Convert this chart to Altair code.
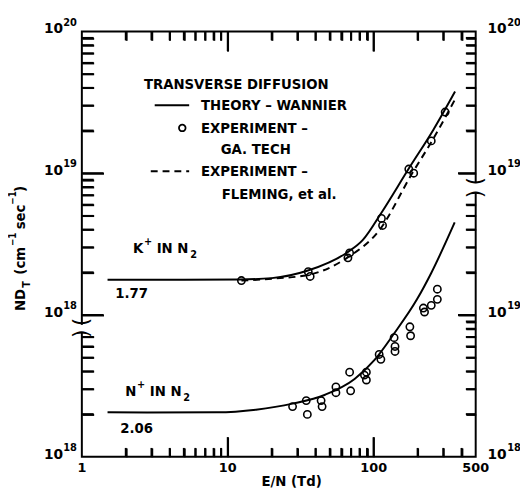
import altair as alt
import pandas as pd

# ---------------- data ----------------
# K+ in N2 (left-hand scale)
EN_K_THEORY = [1.5, 5, 12, 20, 35, 65, 84, 113, 174, 256, 361]
K_THEORY = [1.77e18, 1.77e18, 1.78e18, 1.82e18, 2.05e18, 2.74e18, 3.37e18,
            5.27e18, 1.08e19, 2.02e19, 3.77e19]
EN_K_FLEMING = [12.4, 21.3, 36.7, 65.6, 109, 182, 256, 361]
K_FLEMING = [1.75e18, 1.81e18, 1.93e18, 2.53e18, 3.95e18, 9.84e18, 1.75e19, 3.32e19]
EN_K_EXP = [12.4, 35.6, 36.7, 68.4, 66.6, 113, 115, 174, 188, 248, 309]
K_EXP = [1.75e18, 2.02e18, 1.87e18, 2.74e18, 2.53e18, 4.8e18, 4.28e18,
         1.07e19, 1.0e19, 1.69e19, 2.7e19]

# N+ in N2 (right-hand scale, drawn one decade lower)
EN_N_THEORY = [1.5, 2.8, 8.4, 15.6, 27.8, 46.5, 74, 101, 138, 198, 248, 359]
N_THEORY = [2.06e18, 2.05e18, 2.06e18, 2.15e18, 2.37e18, 2.74e18, 3.54e18,
            4.8e18, 7.4e18, 1.29e19, 1.98e19, 4.5e19]
EN_N_EXP = [27.8, 34.5, 35.1, 43.6, 44.3, 55.1, 55.1, 68.4, 69.5, 86.4, 89.1, 89.1,
            109, 112, 138, 140, 140, 177, 179, 219, 223, 248, 273, 273]
N_EXP = [2.26e18, 2.49e18, 1.99e18, 2.49e18, 2.26e18, 3.11e18, 2.83e18, 3.95e18,
         2.92e18, 3.77e18, 3.95e18, 3.48e18, 5.27e18, 4.87e18, 6.92e18, 6.0e18,
         5.53e18, 8.26e18, 7.14e18, 1.12e19, 1.05e19, 1.17e19, 1.29e19, 1.52e19]
N_SHIFT = 10.0

# axis ticks and labels
X_MAJOR = [10, 100]
X_MINOR = [2, 3, 4, 5, 6, 7, 8, 9, 20, 30, 40, 50, 60, 70, 80, 90, 200, 300, 400]
X_LABEL_VALUES = [1, 10, 100, 500]
X_LABELS = ["1", "10", "100", "500"]

Y_MAJOR = [1e18, 1e19]
Y_MINOR_LEFT = [2e17, 3e17, 4e17, 5e17, 6e17, 7e17,
                2e18, 3e18, 4e18, 5e18, 6e18, 7e18, 8e18, 9e18,
                2e19, 3e19, 4e19, 5e19, 6e19, 7e19, 8e19, 9e19]
Y_MINOR_RIGHT = [2e17, 3e17, 4e17, 5e17, 6e17, 7e17, 8e17, 9e17,
                 2e18, 3e18, 4e18, 5e18, 6e18,
                 2e19, 3e19, 4e19, 5e19, 6e19, 7e19, 8e19, 9e19]
Y_LABEL_VALUES = [1e17, 1e18, 1e19, 1e20]
Y_EXP_LEFT = ["18", "18", "19", "20"]
Y_EXP_RIGHT = ["18", "19", "19", "20"]

# ---------------- styling ----------------
W, H = 400, 432
XDOM = [1, 500]
YDOM = [1e17, 1e20]
NARROW = "Liberation Sans Narrow, DejaVu Sans Condensed, sans-serif"
WIDE = "DejaVu Sans, Liberation Sans, sans-serif"
TW = 2  # tick stroke width

xs = alt.Scale(type="log", domain=XDOM, nice=False)
ys = alt.Scale(type="log", domain=YDOM, nice=False)


def tick_axis(values, orient, offset, size):
    # an axis turned to face inwards: only its ticks are drawn, inside the frame
    return alt.Axis(values=values, orient=orient, offset=offset, domain=False, labels=False,
                    grid=False, title=None, tickColor="black", tickWidth=TW, tickSize=size,
                    tickOpacity=1, tickCount=40)


def X(f, axis=None):
    return alt.X(f, type="quantitative", scale=xs, axis=axis)


def Y(f, axis=None):
    return alt.Y(f, type="quantitative", scale=ys, axis=axis)


def frame(en, val, series, shift=1.0):
    return pd.DataFrame({"en": en, "val": val,
                         "plot": [v / shift for v in val], "series": series})


theory = pd.concat([frame(EN_K_THEORY, K_THEORY, "K"),
                    frame(EN_N_THEORY, N_THEORY, "N", N_SHIFT)])
fleming = frame(EN_K_FLEMING, K_FLEMING, "K")
exp = pd.concat([frame(EN_K_EXP, K_EXP, "K"),
                 frame(EN_N_EXP, N_EXP, "N", N_SHIFT)])

DUMMY = pd.DataFrame({"a": [0]})

layers = []
# tick marks drawn as one-sided symbol strokes anchored on the frame
# (symbol path unit = sqrt(size)/2 px, so a tick of L px needs size 4*L*L)
for vals, ln in ((X_MINOR, 9), (X_MAJOR, 20)):
    n = len(vals)
    d = pd.DataFrame({"v": vals, "lo": [YDOM[0]] * n, "hi": [YDOM[1]] * n})
    for fld, path in (("lo", "M0,0L0,-1"), ("hi", "M0,0L0,1")):
        layers.append(alt.Chart(d).mark_point(shape=path, size=4 * ln * ln, filled=False,
                                              strokeWidth=TW, color="black", opacity=1)
                      .encode(x=X("v"), y=Y(fld)))
for vals, ln, fld, edge, path in ((Y_MINOR_LEFT, 12, "l", XDOM[0], "M0,0L1,0"),
                                  (Y_MAJOR, 22, "l", XDOM[0], "M0,0L1,0"),
                                  (Y_MINOR_RIGHT, 10, "r", XDOM[1], "M0,0L-1,0"),
                                  (Y_MAJOR, 18, "r", XDOM[1], "M0,0L-1,0")):
    d = pd.DataFrame({"v": vals, fld: [edge] * len(vals)})
    layers.append(alt.Chart(d).mark_point(shape=path, size=4 * ln * ln, filled=False,
                                          strokeWidth=TW, color="black", opacity=1)
                  .encode(x=X(fld), y=Y("v")))

# data layers, which also carry inward-facing axes for the ticks
layers.append(alt.Chart(theory).mark_line(color="black", strokeWidth=2, interpolate="monotone")
              .encode(x=X("en", tick_axis(X_MINOR, "top", -H, 9)),
                      y=Y("plot", tick_axis(Y_MINOR_LEFT, "right", -W, 12)),
                      detail="series:N"))
layers.append(alt.Chart(fleming).mark_line(color="black", strokeWidth=2, strokeDash=[7, 5],
                                           interpolate="monotone")
              .encode(x=X("en", tick_axis(X_MAJOR, "top", -H, 20)),
                      y=Y("plot", tick_axis(Y_MAJOR, "right", -W, 22))))
layers.append(alt.Chart(exp).mark_point(shape="circle", filled=False, size=55, strokeWidth=1.6,
                                        color="black", opacity=1)
              .encode(x=X("en", tick_axis(X_MINOR, "bottom", -H, 9)),
                      y=Y("plot", tick_axis(Y_MINOR_RIGHT, "left", -W, 10))))

# axis breaks: gap in the frame plus curved marks
for xx, y1, y2 in ((0, 298, 306), (W, 154, 163)):
    layers.append(alt.Chart(DUMMY).mark_rule(color="white", strokeWidth=5)
                  .encode(x=alt.value(xx), y=alt.value(y1), y2=alt.value(y2)))


def txt(text, x, y, size, align="left", font=NARROW, angle=0, weight="bold", baseline="middle"):
    return (alt.Chart(DUMMY)
            .mark_text(text=text, font=font, fontSize=size, fontWeight=weight, align=align,
                       baseline=baseline, angle=angle, color="black")
            .encode(x=alt.value(x), y=alt.value(y)))


for xx, ys_, ye_ in ((0, 295, 307), (W, 152, 165)):
    layers.append(txt(")", xx, ys_, 22, align="center", font=WIDE, angle=90, weight="normal"))
    layers.append(txt("(", xx, ye_, 22, align="center", font=WIDE, angle=90, weight="normal"))

# tick labels
layers.append(alt.Chart(pd.DataFrame({"v": X_LABEL_VALUES, "t": X_LABELS}))
              .mark_text(font=WIDE, fontSize=13, fontWeight="bold", baseline="middle", color="black")
              .encode(x=X("v", tick_axis(X_MAJOR, "bottom", -H, 20)), y=alt.value(443), text="t:N"))
for exps, xb, xe, alb, ax in ((Y_EXP_LEFT, -19, -19, "right", None),
                              (Y_EXP_RIGHT, 412, 432, "left",
                               tick_axis(Y_MAJOR, "left", -W, 18))):
    d = pd.DataFrame({"v": Y_LABEL_VALUES, "e": exps, "b": ["10"] * len(exps)})
    layers.append(alt.Chart(d)
                  .mark_text(font=WIDE, fontSize=14, fontWeight="bold", baseline="middle",
                             align=alb, color="black", dy=-2)
                  .encode(y=Y("v", ax), x=alt.value(xb), text="b:N"))
    layers.append(alt.Chart(d)
                  .mark_text(font=WIDE, fontSize=10, fontWeight="bold", baseline="middle",
                             align="left", color="black", dy=-9)
                  .encode(y=Y("v"), x=alt.value(xe), text="e:N"))

# axis titles
layers.append(txt("E/N (Td)", 213, 457, 15, align="center"))
layers.append(txt("ND", -63, 284, 15, angle=270))
layers.append(txt("T", -56, 257, 11, align="center", angle=270))
layers.append(txt("(cm", -63, 247, 15, angle=270))
layers.append(txt("−1", -70, 218, 10, angle=270))
layers.append(txt("sec", -63, 201, 15, angle=270))
layers.append(txt("−1", -70, 176, 10, angle=270))
layers.append(txt(")", -63, 163, 15, angle=270))

# legend
layers.append(txt("TRANSVERSE DIFFUSION", 63, 53, 15))
layers.append(alt.Chart(DUMMY).mark_rule(color="black", strokeWidth=2)
              .encode(x=alt.value(74), x2=alt.value(109), y=alt.value(75)))
layers.append(txt("THEORY – WANNIER", 121, 75, 15))
layers.append(alt.Chart(DUMMY).mark_point(shape="circle", filled=False, size=45, strokeWidth=1.8,
                                          color="black", opacity=1)
              .encode(x=alt.value(102), y=alt.value(98)))
layers.append(txt("EXPERIMENT –", 121, 98, 15))
layers.append(txt("GA. TECH", 141, 119, 15))
layers.append(alt.Chart(DUMMY).mark_rule(color="black", strokeWidth=2, strokeDash=[7, 5])
              .encode(x=alt.value(70), x2=alt.value(109), y=alt.value(142)))
layers.append(txt("EXPERIMENT –", 121, 142, 15))
layers.append(txt("FLEMING, et al.", 142, 165, 15))

# curve labels (K+ IN N2, N+ IN N2)
layers.append(txt("K", 52, 220, 15))
layers.append(txt("+", 63, 214, 11))
layers.append(txt("IN N", 76, 220, 15))
layers.append(txt("2", 110, 227, 11))
layers.append(txt("1.77", 34, 266, 15))
layers.append(txt("N", 44, 365, 15))
layers.append(txt("+", 56, 359, 11))
layers.append(txt("IN N", 69, 365, 15))
layers.append(txt("2", 103, 372, 11))
layers.append(txt("2.06", 39, 403, 15))

chart = (alt.layer(*layers)
         .resolve_axis(x="independent", y="independent")
         .properties(width=W, height=H, autosize=alt.AutoSizeParams(type="none"),
                     padding={"left": 75, "top": 20, "right": 45, "bottom": 35},
                     background="white")
         .configure_view(stroke="black", strokeWidth=2))

chart.save("out.html", embed_options={"renderer": "svg", "actions": False})
